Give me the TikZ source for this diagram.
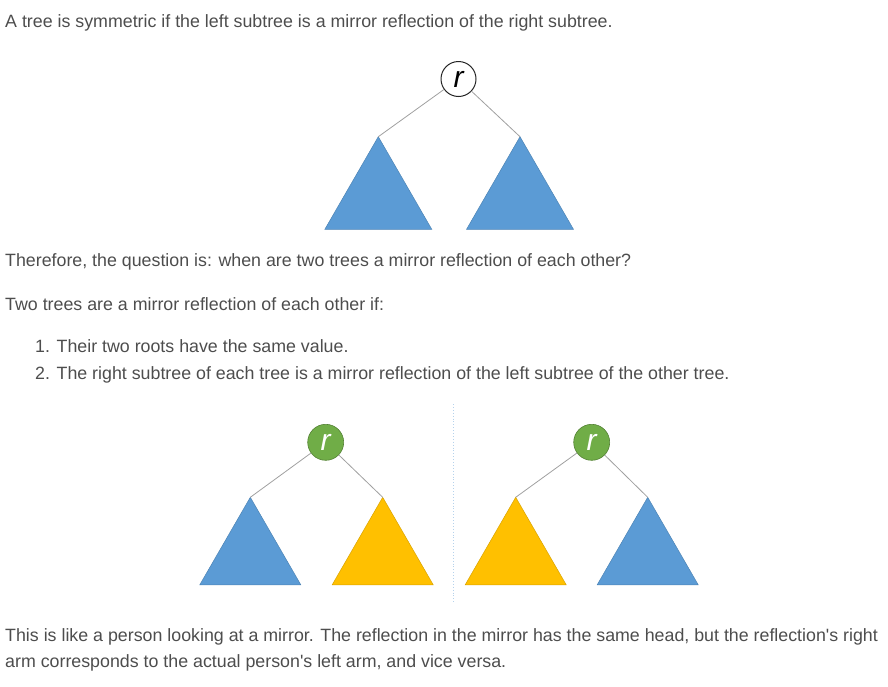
\documentclass[tikz,border=0pt]{standalone}
\usepackage{fontspec}
\setmainfont{Liberation Sans}
\usepackage{tikz}
\usetikzlibrary{shapes}

\definecolor{txtgray}{HTML}{4D4D4D}
\definecolor{treeblue}{HTML}{5B9BD5}
\definecolor{treeyellow}{HTML}{FFC000}
\definecolor{rootgreen}{HTML}{70AD47}
\definecolor{edgegray}{HTML}{A0A0A0}

\tikzset{
 txt/.style={anchor=base west, inner sep=0pt, text=txtgray, font=\fontsize{17.8}{20}\selectfont},
 root/.style={circle, draw=black!85, fill=white, line width=1pt, minimum size=35pt, inner sep=0pt, font=\fontsize{30}{30}\selectfont\itshape},
 groot/.style={circle, draw=rootgreen!75!black, fill=rootgreen, line width=0.6pt, minimum size=36pt, inner sep=0pt, text=white, font=\fontsize{30}{30}\selectfont\itshape},
 sub/.style={regular polygon, regular polygon sides=3, inner sep=0pt, outer sep=0pt, line width=0.5pt},
 bigsub/.style={sub, minimum size=123.6pt},
 smallsub/.style={sub, minimum size=116.6pt},
 bluesub/.style={fill=treeblue, draw=treeblue!85!black},
 yellowsub/.style={fill=treeyellow, draw=treeyellow!85!black},
 link/.style={draw=edgegray, line width=0.8pt}
}

\begin{document}
\begin{tikzpicture}[x=1pt, y=-1pt]
 \useasboundingbox (0,0) rectangle (888,686);

 % text
 \node[name=intro, txt] at (5,27.3) {A tree is symmetric if the left subtree is a mirror reflection of the right subtree.};
 \node[name=question, txt] at (5,266.7) {Therefore, the question is: when are two trees a mirror reflection of each other?};
 \node[name=answer, txt] at (5,310) {Two trees are a mirror reflection of each other if:};
 \node[name=ruleone, txt] at (35,352.7) {1. Their two roots have the same value.};
 \node[name=ruletwo, txt] at (35,379.3) {2. The right subtree of each tree is a mirror reflection of the left subtree of the other tree.};
 \node[name=likeone, txt] at (5,641) {This is like a person looking at a mirror. The reflection in the mirror has the same head, but the reflection\textquotesingle s right};
 \node[name=liketwo, txt] at (5,667.7) {arm corresponds to the actual person\textquotesingle s left arm, and vice versa.};

 % symmetric tree
 \node[name=top, root] at (458.5,79) {r};
 \node[name=topleft, bigsub, bluesub] at (378.3,198.5) {};
 \node[name=topright, bigsub, bluesub] at (520,198.5) {};
 \draw[link] (top) -- (topleft.corner 1);
 \draw[link] (top) -- (topright.corner 1);

 % mirror
 \coordinate (mirrortop) at (453.5,404);
 \coordinate (mirrorbot) at (453.5,602);
 \draw[draw=treeblue!45, line width=0.9pt, dotted] (mirrortop) -- (mirrorbot);

 % the two trees
 \node[name=lroot, groot] at (325.7,442.3) {r};
 \node[name=lleft, smallsub, bluesub] at (250.3,555.6) {};
 \node[name=lright, smallsub, yellowsub] at (382.7,555.6) {};
 \node[name=rroot, groot] at (591.7,442.3) {r};
 \node[name=rleft, smallsub, yellowsub] at (515.7,555.6) {};
 \node[name=rright, smallsub, bluesub] at (647.7,555.6) {};

 \draw[link] (lroot) -- (lleft.corner 1);
 \draw[link] (lroot) -- (lright.corner 1);
 \draw[link] (rroot) -- (rleft.corner 1);
 \draw[link] (rroot) -- (rright.corner 1);
\end{tikzpicture}
\end{document}
